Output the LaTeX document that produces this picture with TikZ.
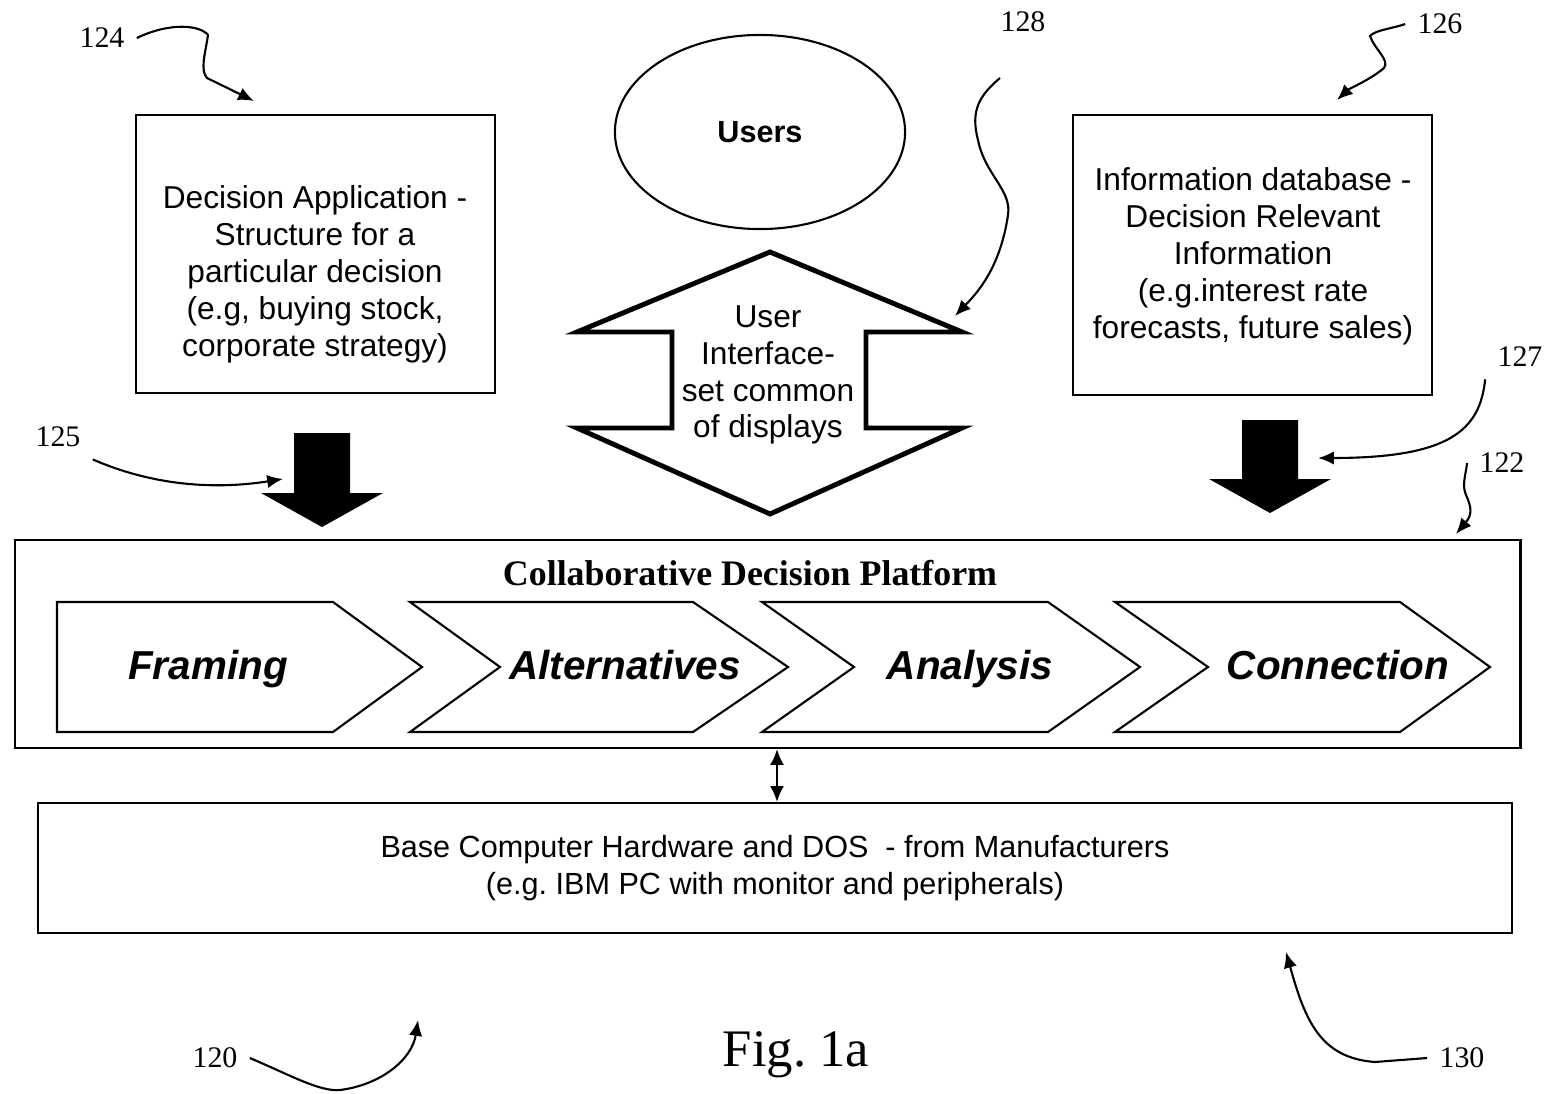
\documentclass[tikz,border=0pt]{standalone}
\usepackage{fontspec}
\setmainfont{Liberation Serif}
\setsansfont{Liberation Sans}
\usetikzlibrary{arrows.meta,shapes.geometric}
\frenchspacing
\tikzset{
  lbl/.style={font=\fontsize{8.5}{10}\selectfont},
  lead/.style={line width=0.6pt,-{Latex[length=4.5pt,width=3.8pt]}},
  box/.style={draw,line width=0.6pt,inner sep=0pt},
  boxtext/.style={align=center,font=\sffamily\fontsize{9}{10.5}\selectfont},
  chev/.style={draw,line width=0.6pt,line join=miter},
  chevtext/.style={anchor=base,font=\sffamily\bfseries\itshape\fontsize{11.5}{13}\selectfont},
}
\begin{document}
\begin{tikzpicture}[x=0.01cm,y=-0.01cm]
\useasboundingbox (0,0) rectangle (1554,1094);
% side boxes
\node[box,minimum width=3.59cm,minimum height=2.78cm] (app) at (315.5,254) {};
\node[boxtext] (apptext) at (315,274) {Decision Application -\\Structure for a\\particular decision\\(e.g, buying stock,\\corporate strategy)};
\node[box,minimum width=3.59cm,minimum height=2.8cm] (infodb) at (1252.5,255) {};
\node[boxtext] (infotext) at (1253,256) {Information database -\\Decision Relevant\\Information\\(e.g.interest rate\\forecasts, future sales)};
% users and the interface arrow
\node[draw,ellipse,line width=0.6pt,minimum width=2.9cm,minimum height=1.94cm,
  font=\sffamily\bfseries\fontsize{8.7}{10}\selectfont] (users) at (760,132) {Users};
\draw[line width=1.4pt,line join=miter] (770,252) -- (962,332) -- (866,332) -- (866,428) -- (962,428)
  -- (770,514) -- (577,428) -- (672,428) -- (672,332) -- (577,332) -- cycle;
\node[boxtext] (ui) at (768,375) {User\\Interface-\\set common\\of displays};
% black arrows into the platform
\foreach \cx/\top/\tip in {322/433/527,1270/420/513}
  \fill[shift={(\cx,0)}] (-28,\top) -- (28,\top) -- (28,\tip-34) -- (61,\tip-34) -- (0,\tip)
    -- (-61,\tip-34) -- (-28,\tip-34) -- cycle;
% platform
\node[box,minimum width=15.05cm,minimum height=2.08cm] (platform) at (767.5,644) {};
\node[font=\bfseries\fontsize{10.2}{12}\selectfont] (ptitle) at (750,573) {Collaborative Decision Platform};
\foreach \nm/\l/\d/\r/\t/\tx/\txt in {fram/57/0/333/422/208/Framing,
    alt/410/90/693/788/625/Alternatives,
    ana/762/92/1048/1140/970/Analysis,
    con/1115/93/1400/1490/1338/Connection}
{
  \draw[chev] (\l,602) -- (\r,602) -- (\t,667) -- (\r,732) -- (\l,732) -- (\l+\d,667) -- cycle;
  \node[chevtext] (\nm) at (\tx,679) {\txt};
}
% base
\node[box,minimum width=14.74cm,minimum height=1.30cm,align=center,
  font=\sffamily\fontsize{8.7}{10.5}\selectfont] (base) at (775,868)
  {Base Computer Hardware and DOS\ \ - from Manufacturers\\(e.g. IBM PC with monitor and peripherals)};
\coordinate (link) at (777,0);
\draw[line width=0.6pt,{Latex[length=4.5pt,width=4pt]}-{Latex[length=4.5pt,width=4pt]}]
  (platform.south -| link) -- (base.north -| link);
% reference numbers
\node[lbl] (n124) at (102,38) {124};
\node[lbl] (n128) at (1023,22) {128};
\node[lbl] (n126) at (1440,24) {126};
\node[lbl] (n127) at (1520,357) {127};
\node[lbl] (n125) at (58,437) {125};
\node[lbl] (n122) at (1502,463) {122};
\node[lbl] (n120) at (215,1058) {120};
\node[lbl] (n130) at (1462,1058) {130};
\node[font=\fontsize{15}{18}\selectfont] (fig) at (796,1055) {Fig. 1a};
\coordinate (t124) at (254,101);
\coordinate (t125) at (283,479);
\coordinate (s128) at (1000,78);
\coordinate (t128) at (955,316);
\coordinate (t126) at (1337,100);
\coordinate (t127) at (1318,458);
\coordinate (t122) at (1456,534);
\coordinate (t120) at (418,1020);
\coordinate (t130) at (1286,952);
\draw[lead] (n124.east) .. controls (170,22) and (200,25) .. (208,35)
  .. controls (205,55) and (200,70) .. (207,78) -- (t124);
\draw[lead] (n125.south east) .. controls (140,480) and (200,492) .. (t125);
\draw[lead] (s128) .. controls (980,95) and (970,110) .. (978,140)
  .. controls (985,175) and (1012,190) .. (1008,215)
  .. controls (1000,270) and (975,295) .. (t128);
\draw[lead] (n126.west) .. controls (1395,28) and (1375,30) .. (1370,36)
  .. controls (1375,50) and (1390,60) .. (1384,68)
  .. controls (1370,80) and (1350,88) .. (t126);
\draw[lead] (n127.south west) .. controls (1480,430) and (1450,458) .. (t127);
\draw[lead] (n122.west) .. controls (1465,478) and (1462,485) .. (1466,495)
  .. controls (1472,508) and (1472,515) .. (t122);
\draw[lead] (n120.east) .. controls (290,1075) and (320,1092) .. (340,1090)
  .. controls (380,1085) and (412,1060) .. (t120);
\draw[lead] (n130.west) -- (1375,1062) .. controls (1320,1058) and (1305,1020) .. (t130);
\end{tikzpicture}
\end{document}
